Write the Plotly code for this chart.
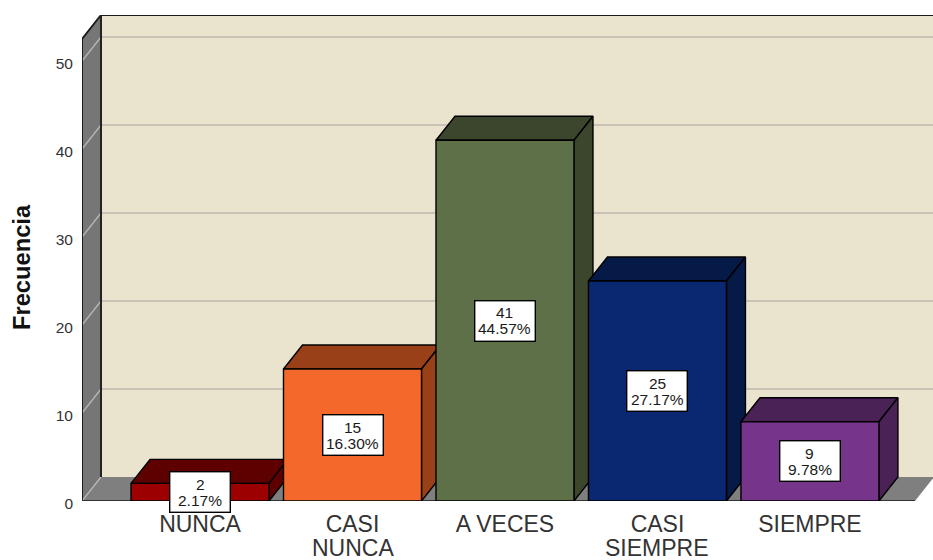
import plotly.graph_objects as go

# Survey responses per category
first_lines = ["NUNCA", "CASI", "A VECES", "CASI", "SIEMPRE"]
second_lines = ["", "NUNCA", "", "SIEMPRE", ""]
counts = [2, 15, 41, 25, 9]
y_ticks = [0, 10, 20, 30, 40, 50]

front_colors = ["#9C0000", "#F4692B", "#5E7048", "#0A2771", "#76348A"]
shade_colors = ["#5F0000", "#9A4019", "#3B462D", "#061A48", "#4A2256"]

total = sum(counts)
positions = list(range(len(counts)))

# Oblique projection used for the 3-D look, in axis units
DX = 0.1246
DY = 2.73
BAR_W = 0.905
X_LEFT = -0.774
X_RIGHT = 4.689
Y_TOP = 52.5
X_MAX = 4.807
Y_MAX = 55.23

fig = go.Figure()


def poly(xs, ys, fill, line="#000000", width=1.4):
    fig.add_trace(go.Scatter(
        x=xs + xs[:1], y=ys + ys[:1], mode="lines", fill="toself",
        fillcolor=fill, line=dict(color=line, width=width),
        hoverinfo="skip", showlegend=False,
    ))


def segment(xs, ys, color, width=1.5):
    fig.add_trace(go.Scatter(
        x=xs, y=ys, mode="lines", line=dict(color=color, width=width),
        hoverinfo="skip", showlegend=False,
    ))


# Chart box: back wall, floor and left wall
poly([X_LEFT + DX, X_MAX + 1, X_MAX + 1, X_LEFT + DX],
     [DY, DY, Y_TOP + DY, Y_TOP + DY], "#EAE4CF", "#EAE4CF", 0)
poly([X_LEFT, X_LEFT + DX, X_RIGHT + DX, X_RIGHT],
     [0, DY, DY, 0], "#7F7F7F", "#7F7F7F", 0)
poly([X_LEFT, X_LEFT + DX, X_LEFT + DX, X_LEFT],
     [Y_TOP, Y_TOP + DY, DY, 0], "#767676", "#767676", 0)

# Gridlines run along the side wall and across the back wall
for t in y_ticks:
    segment([X_LEFT, X_LEFT + DX], [t, t + DY], "#B9B9B4", 1.3)
    if t > 0:
        segment([X_LEFT + DX, X_MAX + 1], [t + DY, t + DY], "#BDB9AE", 1.6)

# Box outline
segment([X_LEFT, X_LEFT, X_LEFT + DX, X_MAX + 1], [0, Y_TOP, Y_TOP + DY, Y_TOP + DY], "#1A1A1A", 1.9)
segment([X_LEFT + DX, X_LEFT + DX], [DY, Y_TOP + DY], "#222222", 2)
segment([X_LEFT, X_RIGHT], [0, 0], "#333333", 1.8)

# Bars, left to right so each front face covers its neighbour's side
for p, v, front, shade in zip(positions, counts, front_colors, shade_colors):
    x0, x1 = p - BAR_W / 2, p + BAR_W / 2
    poly([x0, x0 + DX, x1 + DX, x1], [v, v + DY, v + DY, v], shade)
    poly([x1, x1 + DX, x1 + DX, x1], [v, v + DY, DY, 0], shade)
    poly([x0, x1, x1, x0], [0, 0, v, v], front)

# Value and percentage boxes centred on each front face
for p, v in zip(positions, counts):
    pct = f"{100 * v / total:.2f}%"
    fig.add_annotation(x=p, y=v / 2, text=" ", showarrow=False, width=59, height=39,
                       bgcolor="#FFFFFF", bordercolor="#000000", borderwidth=1.4, borderpad=0)
    for text, shift in ((str(v), 8), (pct, -8)):
        fig.add_annotation(x=p, y=v / 2, yshift=shift, text=text, showarrow=False,
                           font=dict(family="Liberation Sans", size=15.5, color="#1A1A1A"))

# Wrapped part of the longer category names
for p, text in zip(positions, second_lines):
    if text:
        fig.add_annotation(x=p, y=0, yref="y", yshift=-47, text=text, showarrow=False,
                           font=dict(family="Liberation Sans", size=23, color="#333333"))

# Axis title, centred on the lower part of the value axis
fig.add_annotation(text="<b>Frecuencia</b>", xref="paper", yref="paper", x=-0.0875, y=0.4805,
                   textangle=-90, showarrow=False,
                   font=dict(family="Liberation Sans", size=23.7, color="#111111"))

fig.update_layout(
    width=933, height=560,
    margin=dict(l=82, r=0, t=15, b=59),
    paper_bgcolor="#FFFFFF", plot_bgcolor="#FFFFFF",
    showlegend=False,
    font=dict(family="Liberation Sans"),
    xaxis=dict(
        range=[X_LEFT, X_MAX], tickmode="array", tickvals=positions, ticktext=first_lines,
        tickfont=dict(size=23, color="#333333"), showgrid=False, zeroline=False,
        showline=False, ticks="", ticklabelstandoff=7,
    ),
    yaxis=dict(
        range=[0, Y_MAX], tickmode="array", tickvals=y_ticks,
        tickfont=dict(size=15.5, color="#333333"), showgrid=False, zeroline=False,
        showline=False, ticks="", ticklabelstandoff=8, ticklabelshift=3,
        automargin=False,
    ),
)
fig.write_html("out.html")
